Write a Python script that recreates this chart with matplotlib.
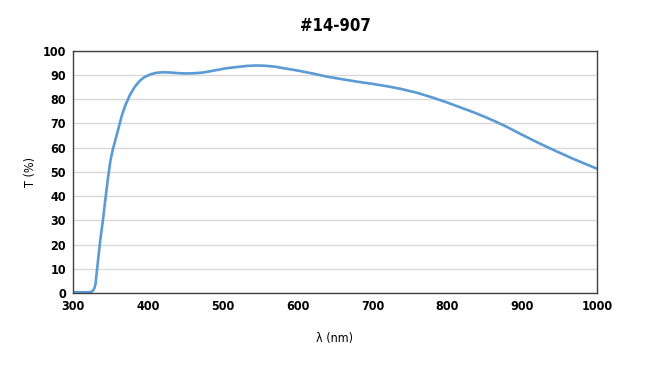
import numpy as np
import matplotlib.pyplot as plt

# transmission curve
wavelength = [300, 310, 320, 325, 328, 330, 333, 336.5, 340, 343, 347, 350, 353, 356.5, 360, 365,
              370, 376.5, 383, 390, 396, 404, 412, 420, 430, 442, 452, 463, 474, 485, 497,
              506, 520, 532, 544, 556, 570, 581, 600, 620, 639, 660, 680, 700, 720, 737,
              760, 781, 800, 820, 835, 850, 865, 880, 900, 924, 945, 968, 985, 1000]
transmission = [0.3, 0.3, 0.3, 0.5, 1.5, 3.5, 12, 22, 30, 38, 48, 54.5, 59, 63, 67, 73,
                77.5, 82, 85.3, 87.8, 89.2, 90.3, 90.9, 91.1, 91.0, 90.7, 90.6, 90.7, 91.0, 91.6, 92.3,
                92.8, 93.3, 93.7, 93.9, 93.8, 93.4, 92.8, 91.8, 90.6, 89.3, 88.2, 87.2, 86.3, 85.3, 84.3,
                82.6, 80.6, 78.6, 76.3, 74.6, 72.7, 70.7, 68.5, 65.3, 61.6, 58.6, 55.4, 53.2, 51.3]

xticks = [300, 400, 500, 600, 700, 800, 900, 1000]
yticks = list(range(0, 101, 10))

plt.rcParams['font.family'] = 'DejaVu Sans'
plt.rcParams['font.stretch'] = 'condensed'

fig = plt.figure(figsize=(6.47, 3.73), dpi=100)
ax = fig.add_axes([0.1128, 0.2145, 0.8099, 0.6496])

ax.plot(wavelength, transmission, color='#5b9bd5', lw=1.9, solid_capstyle='round')

ax.set_xlim(300, 1000)
ax.set_ylim(0, 100)
ax.set_xticks(xticks)
ax.set_yticks(yticks)
ax.tick_params(length=0, labelsize=9, pad=5)
for lab in ax.get_xticklabels() + ax.get_yticklabels():
    lab.set_fontweight('bold')
ax.grid(axis='y', color='#d9d9d9', lw=1)
ax.set_axisbelow(True)
for s in ax.spines.values():
    s.set_color('#404040')
    s.set_linewidth(1)

ax.set_xlabel('λ (nm)', fontsize=9, labelpad=14)
ax.set_ylabel('T (%)', fontsize=9, labelpad=4)
ax.set_title('#14-907', fontsize=12, fontweight='bold', pad=14)

fig.savefig('out.png', dpi=100)
